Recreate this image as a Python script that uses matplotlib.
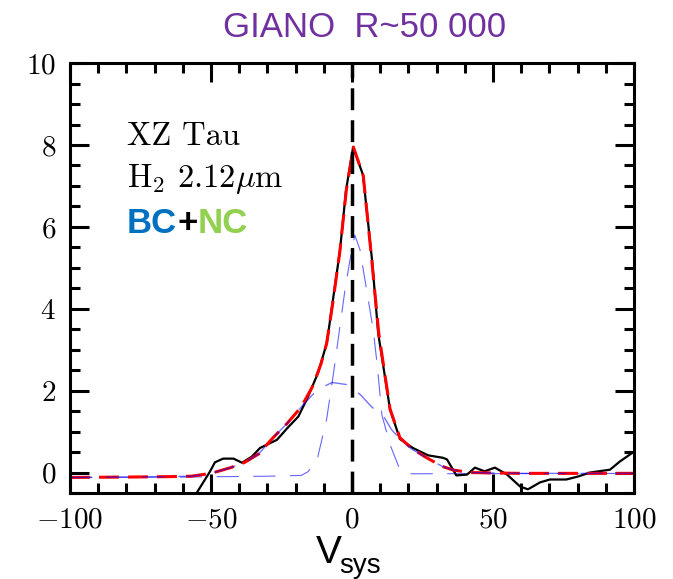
import matplotlib
matplotlib.use('Agg')
import matplotlib.pyplot as plt
from matplotlib.ticker import MultipleLocator

# observed H2 2.12um line profile (velocity in km/s, flux)
v_obs = [-56, -50.4, -48.6, -45.7, -42, -39, -35.5, -32.6, -30.2, -26.6, -23,
         -19, -15.6, -12, -8.9, -7.1, -4.3, -2.1, 0.4, 3.9, 7.1, 9.3, 13.5, 17,
         21.6, 27, 32.3, 33.7, 37, 40.8, 43.6, 47, 50.7, 55, 59.6, 62.4, 66.7,
         70.2, 76, 80, 84.4, 91.5, 95, 99.6]
f_obs = [-0.6, 0.02, 0.25, 0.34, 0.34, 0.24, 0.39, 0.6, 0.68, 0.8, 1.08,
         1.37, 1.85, 2.44, 3.17, 4.05, 5.4, 6.9, 7.95, 7.27, 5.2, 3.4, 1.54, 0.82,
         0.6, 0.42, 0.36, 0.32, -0.07, -0.05, 0.12, 0.03, 0.12, -0.05, -0.34, -0.41, -0.24,
         -0.17, -0.17, -0.1, 0.0, 0.07, 0.27, 0.49]

# total fit (BC + NC)
v_fit = [-100, -80, -65, -57, -50, -43, -38, -33, -28, -23, -18, -14, -11,
         -9, -7, -4.3, -2, 0.5, 4, 7, 9.5, 13.5, 17, 21, 26, 32, 36, 42, 50,
         60, 100]
f_fit = [-0.12, -0.11, -0.1, -0.09, -0.02, 0.12, 0.25, 0.46, 0.85, 1.2, 1.6,
         2.1, 2.65, 3.15, 4.05, 5.4, 6.9, 7.95, 7.25, 5.2, 3.4, 1.55, 0.85,
         0.6, 0.38, 0.15, 0.06, 0.0, -0.01, -0.02, -0.02]

# broad component
v_bc = [-100, -80, -65, -57, -50, -43, -38, -33, -28, -23, -18, -14, -11,
        -7, -2, 3, 7, 11, 14, 17, 21, 26, 32, 36, 42, 50, 60, 100]
f_bc = [-0.12, -0.11, -0.1, -0.09, -0.02, 0.12, 0.25, 0.46, 0.85, 1.2, 1.6,
        1.9, 2.07, 2.2, 2.15, 1.9, 1.6, 1.4, 1.05, 0.82, 0.58, 0.38, 0.15,
        0.06, 0.0, -0.01, -0.02, -0.02]

# narrow component
v_nc = [-100, -60, -30, -18, -15.6, -12.4, -9, -6.7, -4.3, -2.5, -0.7, 1,
        2.8, 5.2, 7.5, 9, 10.6, 13.5, 17, 21, 100]
f_nc = [-0.12, -0.11, -0.09, -0.07, 0.02, 0.3, 1.3, 2.35, 3.55, 4.45, 5.2,
        5.8, 5.45, 4.46, 3.5, 2.6, 1.41, 0.68, 0.07, -0.03, -0.02]

plt.rcParams['font.family'] = 'serif'
plt.rcParams['font.serif'] = ['cmr10']
plt.rcParams['mathtext.fontset'] = 'cm'
plt.rcParams['axes.formatter.use_mathtext'] = True

fig = plt.figure(figsize=(6.73, 5.79), dpi=100)
ax = fig.add_axes([0.104, 0.1485, 0.838, 0.7425])

ax.plot(v_nc, f_nc, color='blue', lw=0.8, alpha=0.6, dashes=(20, 13))
ax.plot(v_obs, f_obs, color='black', lw=1.6)
ax.plot(v_fit, f_fit, color='red', lw=2.2, dashes=(6.5, 3))
# broad component drawn over the total fit so the shared wings look purple
ax.plot(v_bc, f_bc, color='blue', lw=1.0, alpha=0.55, dashes=(16, 10))
ax.axvline(0, color='black', lw=2.5, dashes=(6.3, 2.9))

ax.set_xlim(-100, 100)
ax.set_ylim(-0.5, 10)
ax.xaxis.set_major_locator(MultipleLocator(50))
ax.xaxis.set_minor_locator(MultipleLocator(10))
ax.yaxis.set_major_locator(MultipleLocator(2))
ax.yaxis.set_minor_locator(MultipleLocator(0.5))
ax.tick_params(which='both', direction='in', top=True, right=True, width=2.2)
ax.tick_params(which='major', length=14, labelsize=21, pad=10)
ax.tick_params(which='minor', length=7)
for s in ax.spines.values():
    s.set_linewidth(2.2)

ax.text(0.101, 0.809, 'XZ Tau', transform=ax.transAxes, fontsize=23.5,
        va='baseline')
ax.text(0.101, 0.712, r'H$_2$ 2.12$\mu$m', transform=ax.transAxes,
        fontsize=23.5, va='baseline')

# BC+NC in three colours, placed one after another
fig.canvas.draw()
renderer = fig.canvas.get_renderer()
x0 = 0.101
for txt, col in [('BC', '#0070C0'), ('+', 'black'), ('NC', '#92D050')]:
    t = ax.text(x0, 0.605, txt, transform=ax.transAxes, fontsize=25,
                fontweight='bold', color=col, va='baseline',
                family='Liberation Sans')
    bb = t.get_window_extent(renderer).transformed(ax.transAxes.inverted())
    x0 = bb.x1

fig.text(0.542, 0.953, 'GIANO  R~50 000', color='#7030A0', fontsize=25,
         family='Liberation Sans', ha='center', va='center')
fig.text(0.488, 0.027, 'V', fontsize=28, family='Liberation Sans',
         ha='center', va='baseline')
fig.text(0.504, 0.01, 'sys', fontsize=20, family='Liberation Sans',
         ha='left', va='baseline')

fig.savefig('out.png', dpi=100)
